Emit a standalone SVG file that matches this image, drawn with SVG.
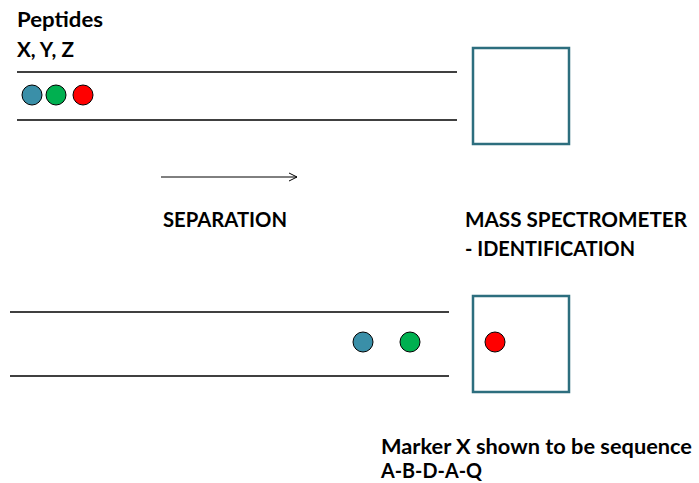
<svg xmlns="http://www.w3.org/2000/svg" width="699" height="483" viewBox="0 0 699 483">
  <defs>
    <style>
      .lbl { font-family: Lato, "Open Sans", "Liberation Sans", sans-serif; font-weight: bold; font-size: 20px; fill: #000; }
      .tube { stroke: #000; stroke-width: 1.5; fill: none; }
      .ms { fill: #fff; stroke: #2D6E7E; stroke-width: 2.5; }
      .pep { stroke: #000; stroke-width: 1; }
      .x { fill: #3A8FA8; }
      .y { fill: #00B050; }
      .z { fill: #FF0000; }
    </style>
    <marker id="open" viewBox="0 0 10 10" refX="9" refY="5" markerWidth="10" markerHeight="10" markerUnits="userSpaceOnUse" orient="auto">
      <path d="M1,1 L9,5 L1,9" fill="none" stroke="#000" stroke-width="1"/>
    </marker>
  </defs>
  <rect width="699" height="483" fill="#fff"/>

  <g id="title">
    <text class="lbl" x="17" y="27" textLength="86" lengthAdjust="spacingAndGlyphs">Peptides</text>
    <text class="lbl" x="17" y="57" textLength="57" lengthAdjust="spacingAndGlyphs">X, Y, Z</text>
  </g>

  <g id="column-before">
    <line class="tube" x1="17" y1="72" x2="457" y2="72"/>
    <line class="tube" x1="17" y1="120" x2="457" y2="120"/>
    <circle class="pep x" cx="32" cy="95" r="10"/>
    <circle class="pep y" cx="56" cy="95" r="10"/>
    <circle class="pep z" cx="83" cy="95" r="10"/>
  </g>

  <g id="ms-before">
    <rect class="ms" x="473" y="48" width="96" height="96"/>
  </g>

  <g id="connectors">
    <line x1="161" y1="177" x2="297" y2="177" stroke="#000" stroke-width="1" marker-end="url(#open)"/>
  </g>

  <g id="separation-label">
    <text class="lbl" x="163" y="227" textLength="124" lengthAdjust="spacingAndGlyphs">SEPARATION</text>
  </g>

  <g id="ms-label">
    <text class="lbl" x="465" y="227" textLength="222" lengthAdjust="spacingAndGlyphs">MASS SPECTROMETER</text>
    <text class="lbl" x="465" y="256" textLength="170" lengthAdjust="spacingAndGlyphs">- IDENTIFICATION</text>
  </g>

  <g id="column-after">
    <line class="tube" x1="10" y1="312" x2="449" y2="312"/>
    <line class="tube" x1="10" y1="376" x2="449" y2="376"/>
    <circle class="pep x" cx="363" cy="342" r="10"/>
    <circle class="pep y" cx="410" cy="342" r="10"/>
  </g>

  <g id="ms-after">
    <rect class="ms" x="473" y="296" width="96" height="96"/>
    <circle class="pep z" cx="495" cy="342" r="10"/>
  </g>

  <g id="result-label">
    <text class="lbl" x="381" y="454" textLength="311" lengthAdjust="spacingAndGlyphs">Marker X shown to be sequence</text>
    <text class="lbl" x="381" y="478" textLength="101" lengthAdjust="spacingAndGlyphs">A-B-D-A-Q</text>
  </g>
</svg>
